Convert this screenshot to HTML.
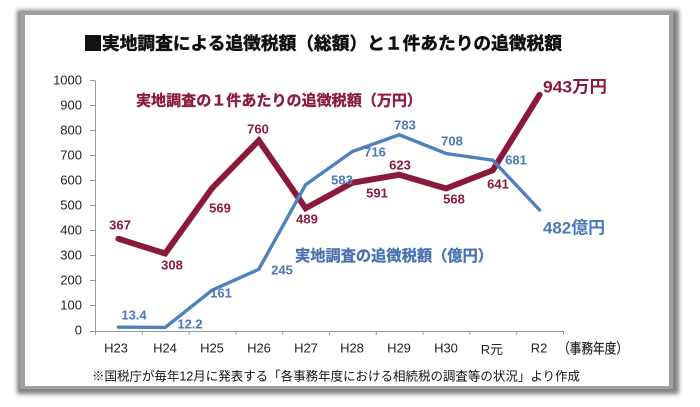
<!DOCTYPE html>
<html><head><meta charset="utf-8"><style>
html,body{margin:0;padding:0;background:#fff;}
svg{display:block;}
</style></head><body>
<svg width="700" height="407" viewBox="0 0 700 407" xmlns="http://www.w3.org/2000/svg">
<defs>
<filter id="sh" x="-5%" y="-5%" width="110%" height="110%"><feGaussianBlur stdDeviation="2"/></filter>
</defs>
<rect x="0" y="0" width="700" height="407" fill="#fff"/>
<!-- card frame -->
<rect x="17" y="10" width="662" height="384" fill="#808080" filter="url(#sh)"/>
<rect x="20" y="12" width="653" height="377" fill="#a0a0a0"/>
<rect x="25" y="15" width="644" height="371" fill="#fff"/>

<!-- title -->
<rect x="85" y="35" width="16" height="16" fill="#111"/>
<text x="102" y="49.7" font-family="'Noto Sans CJK JP','Liberation Sans',sans-serif" font-weight="bold" font-size="17.7" fill="#111" stroke="#111" stroke-width="0.5" textLength="460" lengthAdjust="spacingAndGlyphs">実地調査による追徴税額（総額）と１件あたりの追徴税額</text>

<!-- axes -->
<g stroke="#9a9a9a" stroke-width="1" fill="none">
<line x1="95.5" y1="80.5" x2="95.5" y2="331"/>
<line x1="95" y1="331.5" x2="563.5" y2="331.5"/>
<line x1="90" y1="80.5" x2="95" y2="80.5"/>
<line x1="90" y1="105.5" x2="95" y2="105.5"/>
<line x1="90" y1="130.5" x2="95" y2="130.5"/>
<line x1="90" y1="155.5" x2="95" y2="155.5"/>
<line x1="90" y1="180.5" x2="95" y2="180.5"/>
<line x1="90" y1="205.5" x2="95" y2="205.5"/>
<line x1="90" y1="230.5" x2="95" y2="230.5"/>
<line x1="90" y1="255.5" x2="95" y2="255.5"/>
<line x1="90" y1="280.5" x2="95" y2="280.5"/>
<line x1="90" y1="305.5" x2="95" y2="305.5"/>
<line x1="90" y1="331.5" x2="95" y2="331.5"/>
<line x1="95.5" y1="331" x2="95.5" y2="335"/>
<line x1="142.3" y1="331" x2="142.3" y2="335"/>
<line x1="189.1" y1="331" x2="189.1" y2="335"/>
<line x1="235.9" y1="331" x2="235.9" y2="335"/>
<line x1="282.7" y1="331" x2="282.7" y2="335"/>
<line x1="329.5" y1="331" x2="329.5" y2="335"/>
<line x1="376.3" y1="331" x2="376.3" y2="335"/>
<line x1="423.1" y1="331" x2="423.1" y2="335"/>
<line x1="469.9" y1="331" x2="469.9" y2="335"/>
<line x1="516.7" y1="331" x2="516.7" y2="335"/>
<line x1="563.5" y1="331" x2="563.5" y2="335"/>
</g>

<!-- y labels -->
<g font-family="'Liberation Sans',sans-serif" font-size="13" fill="#222" text-anchor="end">
<text x="82" y="84.5">1000</text>
<text x="82" y="109.5">900</text>
<text x="82" y="134.5">800</text>
<text x="82" y="159.5">700</text>
<text x="82" y="184.5">600</text>
<text x="82" y="209.5">500</text>
<text x="82" y="234.5">400</text>
<text x="82" y="259.5">300</text>
<text x="82" y="284.5">200</text>
<text x="82" y="309.5">100</text>
<text x="82" y="334.5">0</text>
</g>

<!-- x labels -->
<g font-family="'Liberation Sans','Noto Sans CJK JP',sans-serif" font-size="13" fill="#222" text-anchor="middle">
<text x="116" y="352.5">H23</text>
<text x="165" y="352.5">H24</text>
<text x="212" y="352.5">H25</text>
<text x="259" y="352.5">H26</text>
<text x="306" y="352.5">H27</text>
<text x="352" y="352.5">H28</text>
<text x="399" y="352.5">H29</text>
<text x="446" y="352.5">H30</text>
<text x="492" y="354">R元</text>
<text x="539" y="352.5">R2</text>
</g>
<text x="558" y="353.3" font-family="'Liberation Sans','Noto Sans CJK JP',sans-serif" font-size="14" fill="#222" stroke="#222" stroke-width="0.2" textLength="70" lengthAdjust="spacingAndGlyphs">（事務年度）</text>

<!-- footer -->
<text x="92" y="380.7" font-family="'Liberation Sans','Noto Sans CJK JP',sans-serif" font-size="12.5" fill="#111" textLength="488" lengthAdjust="spacingAndGlyphs">※国税庁が毎年12月に発表する「各事務年度における相続税の調査等の状況」より作成</text>

<!-- red series -->
<polyline fill="none" stroke="#8B1A3A" stroke-width="6" stroke-linejoin="miter" stroke-linecap="round"
points="118.4,238.75 165.2,253.5 212,188.25 258.8,140.5 305.6,208.25 352.4,182.75 399.2,174.75 446,188.5 492.8,170.25 539.6,94.75"/>
<!-- blue series -->
<polyline fill="none" stroke="#4F81BD" stroke-width="3.4" stroke-linejoin="miter" stroke-linecap="round"
points="118.4,327.15 165.2,327.45 212,290.25 258.8,269.25 305.6,184.75 352.4,151.5 399.2,134.75 446,153.5 492.8,160.25 539.6,210"/>

<!-- red labels -->
<g font-family="'Liberation Sans',sans-serif" font-weight="bold" font-size="13" fill="#8B1A3A" text-anchor="middle">
<text x="120" y="229.7">367</text>
<text x="172" y="269.7">308</text>
<text x="220" y="212.7">569</text>
<text x="258" y="133.7">760</text>
<text x="307" y="223.7">489</text>
<text x="377" y="197.7">591</text>
<text x="400" y="169.7">623</text>
<text x="454" y="203.7">568</text>
<text x="498" y="188.7">641</text>
</g>
<text x="136" y="105.7" font-family="'Noto Sans CJK JP','Liberation Sans',sans-serif" font-weight="bold" font-size="15" fill="#8B1A3A" stroke="#8B1A3A" stroke-width="0.35" textLength="286" lengthAdjust="spacingAndGlyphs">実地調査の１件あたりの追徴税額（万円）</text>
<text x="543" y="92.5" font-family="'Liberation Sans','Noto Sans CJK JP',sans-serif" font-weight="bold" font-size="17" fill="#8B1A3A" textLength="64" lengthAdjust="spacingAndGlyphs">943万円</text>

<!-- blue labels -->
<g font-family="'Liberation Sans',sans-serif" font-weight="bold" font-size="13" fill="#4A78B8" text-anchor="middle">
<text x="134" y="319.7">13.4</text>
<text x="190" y="328.7">12.2</text>
<text x="221" y="297.7">161</text>
<text x="282" y="274.7">245</text>
<text x="342" y="184.7">583</text>
<text x="375" y="156.7">716</text>
<text x="405" y="129.7">783</text>
<text x="452" y="145.7">708</text>
<text x="516" y="164.7">681</text>
</g>
<text x="295" y="260.8" font-family="'Noto Sans CJK JP','Liberation Sans',sans-serif" font-weight="bold" font-size="15.2" fill="#4A72AE" stroke="#4A72AE" stroke-width="0.35" textLength="198" lengthAdjust="spacingAndGlyphs">実地調査の追徴税額（億円）</text>
<text x="543" y="233.5" font-family="'Liberation Sans','Noto Sans CJK JP',sans-serif" font-weight="bold" font-size="17" fill="#4A78B8" textLength="62" lengthAdjust="spacingAndGlyphs">482億円</text>
</svg>
</body></html>
